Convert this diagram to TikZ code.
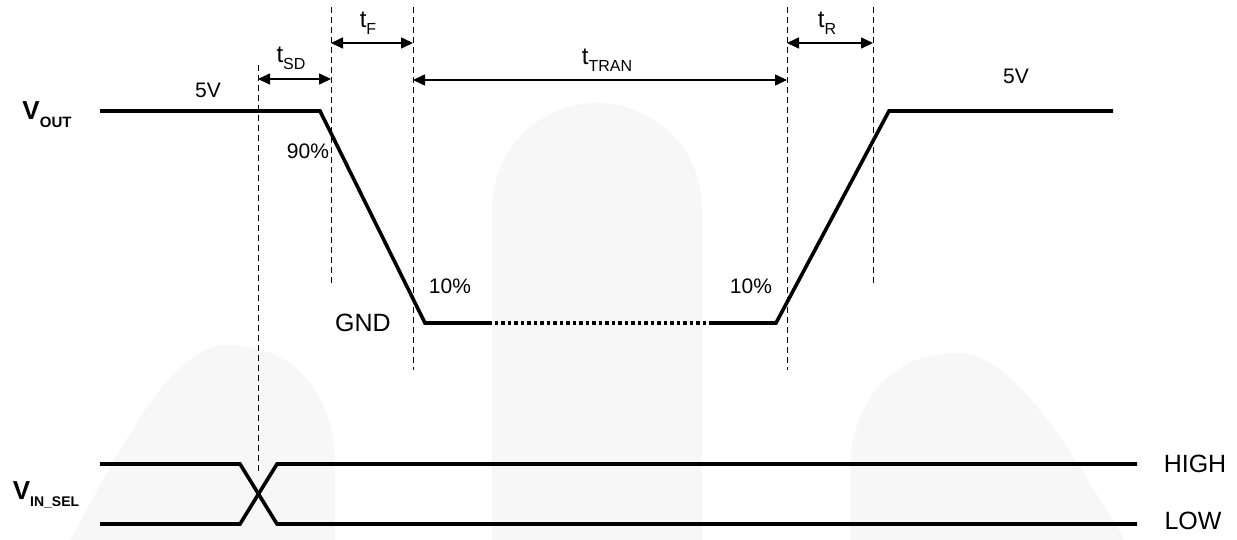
\documentclass[tikz,border=0pt]{standalone}
\usepackage{fontspec}
\setmainfont{Liberation Sans}
\usetikzlibrary{arrows.meta}
\newcommand{\tlab}[1]{t\raisebox{-0.28em}{\fontsize{16}{16}\selectfont #1}}
\begin{document}
\begin{tikzpicture}[x=1pt,y=-1pt,
  sig/.style={line width=3.6pt, line join=miter},
  dotsig/.style={line width=3.6pt, dash pattern=on 3.5pt off 3pt},
  guide/.style={line width=0.9pt, dash pattern=on 6pt off 4pt},
  dim/.style={line width=1.6pt, {Triangle[length=12pt,width=11pt]}-{Triangle[length=12pt,width=11pt]}},
  wm/.style={fill=black!3, draw=none},
  lbl/.style={inner sep=0pt, font=\fontsize{21}{24}\selectfont},
  big/.style={inner sep=0pt, font=\fontsize{25}{28}\selectfont},
  tl/.style={inner sep=0pt, font=\fontsize{24}{26}\selectfont}]
\useasboundingbox (0,0) rectangle (1237,540);
% watermark
\fill[wm] (492,540) -- (492,208) .. controls (492,150) and (539,103) .. (597,103)
  .. controls (655,103) and (702,150) .. (702,208) -- (702,540) -- cycle;
\fill[wm] (70,540) .. controls (120,450) and (170,345) .. (227,345)
  .. controls (300,345) and (333,400) .. (335,460) -- (335,540) -- cycle;
\fill[wm] (850,540) -- (850,470) .. controls (850,410) and (885,353) .. (957,353)
  .. controls (1015,353) and (1070,450) .. (1125,540) -- cycle;
% guide coordinates
\coordinate (g1t) at (258,65);  \coordinate (g1b) at (258,475);
\coordinate (g2t) at (331,7);   \coordinate (g2b) at (331,285);
\coordinate (g3t) at (413,7);   \coordinate (g3b) at (413,370);
\coordinate (g4t) at (787,7);   \coordinate (g4b) at (787,370);
\coordinate (g5t) at (873,7);   \coordinate (g5b) at (873,285);
\foreach \a in {1,...,5} {\draw[guide] (g\a t) -- (g\a b);}
% V_OUT trace
\coordinate (o0) at (100,111);
\coordinate (o1) at (320,111);
\coordinate (o2) at (425,323);
\coordinate (o3) at (488,323);
\coordinate (o4) at (711,323);
\coordinate (o5) at (776,323);
\coordinate (o6) at (889,111);
\coordinate (o7) at (1113,111);
\draw[sig] (o0) -- (o1) -- (o2) -- (o3);
\draw[dotsig] (o3) -- (o4);
\draw[sig] (o4) -- (o5) -- (o6) -- (o7);
% V_IN_SEL traces
\coordinate (h0) at (100,464); \coordinate (h1) at (240,464);
\coordinate (l0) at (100,524); \coordinate (l1) at (240,524);
\coordinate (h2) at (277,464); \coordinate (h3) at (1137,464);
\coordinate (l2) at (277,524); \coordinate (l3) at (1137,524);
\draw[sig] (h0) -- (h1) -- (l2) -- (l3);
\draw[sig] (l0) -- (l1) -- (h2) -- (h3);
% dimension arrows
\coordinate (sdL) at (258,79);  \coordinate (sdR) at (331,79);
\coordinate (fL) at (331,43);   \coordinate (fR) at (413,43);
\coordinate (trL) at (413,80);  \coordinate (trR) at (787,80);
\coordinate (rL) at (787,43);   \coordinate (rR) at (873,43);
\draw[dim] (sdL) -- (sdR);
\draw[dim] (fL) -- (fR);
\draw[dim] (trL) -- (trR);
\draw[dim] (rL) -- (rR);
% labels
\node[tl] (tsd) at (291,58) {\tlab{SD}};
\node[tl] (tf) at (368,23) {\tlab{F}};
\node[tl] (ttran) at (607,60) {\tlab{TRAN}};
\node[tl] (tr) at (827,23) {\tlab{R}};
\node[lbl] (v5a) at (208,90) {5V};
\node[lbl] (v5b) at (1016,76) {5V};
\node[lbl] (p90) at (308,151) {90\%};
\node[lbl] (p10a) at (450,286) {10\%};
\node[lbl] (p10b) at (751,286) {10\%};
\node[big] (gnd) at (363,323) {GND};
\node[big] (high) at (1195,464) {HIGH};
\node[big] (low) at (1193,521) {LOW};
\node[inner sep=0pt, font=\fontsize{26}{28}\selectfont\bfseries] (vout) at (47,115)
  {V\raisebox{-0.3em}{\fontsize{15}{15}\selectfont OUT}};
\node[inner sep=0pt, font=\fontsize{26}{28}\selectfont\bfseries] (vin) at (46,495)
  {V\raisebox{-0.3em}{\fontsize{14}{14}\selectfont IN\_SEL}};
\end{tikzpicture}
\end{document}
